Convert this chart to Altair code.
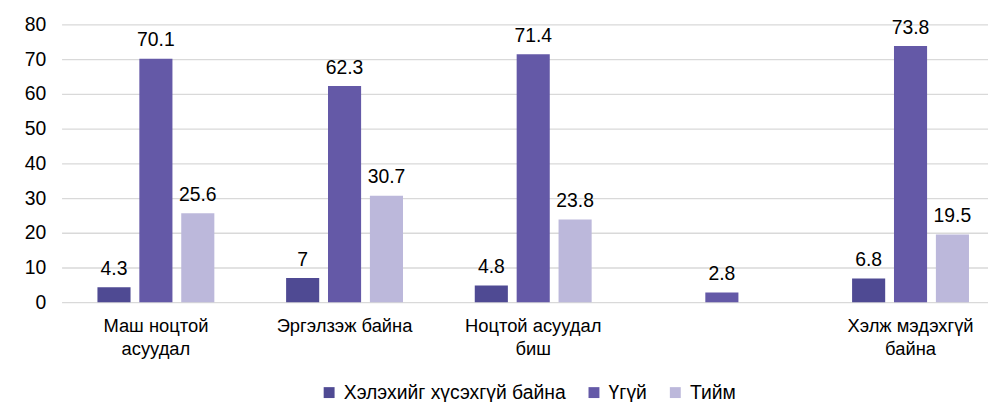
import altair as alt
import pandas as pd

categories = ["Маш ноцтой|асуудал", "Эргэлзэж байна", "Ноцтой асуудал|биш", " ", "Хэлж мэдэхгүй|байна"]
series_names = ["Хэлэхийг хүсэхгүй байна", "Үгүй", "Тийм"]
s1 = [4.3, 7, 4.8, None, 6.8]
s2 = [70.1, 62.3, 71.4, 2.8, 73.8]
s3 = [25.6, 30.7, 23.8, None, 19.5]
colors = ["#4F4A93", "#6459A7", "#BCB8DB"]

rows = []
for vals, name in zip([s1, s2, s3], series_names):
    for c, v in zip(categories, vals):
        if v is not None:
            rows.append({"cat": c, "series": name, "value": v})
df = pd.DataFrame(rows)

FONT = "Liberation Sans"

x = alt.X("cat:N", sort=categories,
          scale=alt.Scale(domain=categories, paddingInner=0.336, paddingOuter=0.168,
                          range=[0, 951]),
          axis=alt.Axis(title=None, labelAngle=0, ticks=False, domain=False,
                        labelExpr="split(datum.label, '|')", labelFontSize=18.5,
                        labelFont=FONT, labelColor="#000000", labelPadding=15,
                        labelLineHeight=23, labelBaseline="top"))
xo = alt.XOffset("series:N", sort=series_names,
                 scale=alt.Scale(domain=series_names, paddingInner=0.21, paddingOuter=0.1))
y = alt.Y("value:Q", scale=alt.Scale(domain=[0, 80], nice=False),
          axis=alt.Axis(title=None, values=list(range(0, 81, 10)), ticks=False, domain=False,
                        gridColor="#D9D9D9", gridWidth=1.3, labelFontSize=19.5, labelFont=FONT,
                        labelColor="#000000", labelPadding=16))
color = alt.Color("series:N", sort=series_names,
                  scale=alt.Scale(domain=series_names, range=colors),
                  legend=alt.Legend(title=None, orient="none", direction="horizontal",
                                    legendX=260, legendY=361, columns=3,
                                    symbolType="square", symbolSize=121, symbolStrokeWidth=0,
                                    labelFontSize=19.5, labelFont=FONT, labelColor="#000000",
                                    labelOffset=5, columnPadding=18, symbolOpacity=1,
                                    labelLimit=0))

bars = alt.Chart(df).mark_bar(opacity=1).encode(x=x, xOffset=xo, y=y, color=color)
labels = alt.Chart(df).mark_text(baseline="bottom", dy=-8.5, fontSize=19.5, font=FONT,
                                 color="#000000").encode(
    x=x, xOffset=xo, y=y, text=alt.Text("value:Q"))

chart = (bars + labels).properties(
    width=934, height=280,
    autosize=alt.AutoSizeParams(type="none"),
    padding={"left": 54, "top": 15, "right": 0, "bottom": 99},
).configure_view(stroke=None)

chart.save("out.html", embed_options={"renderer": "svg", "actions": False})
